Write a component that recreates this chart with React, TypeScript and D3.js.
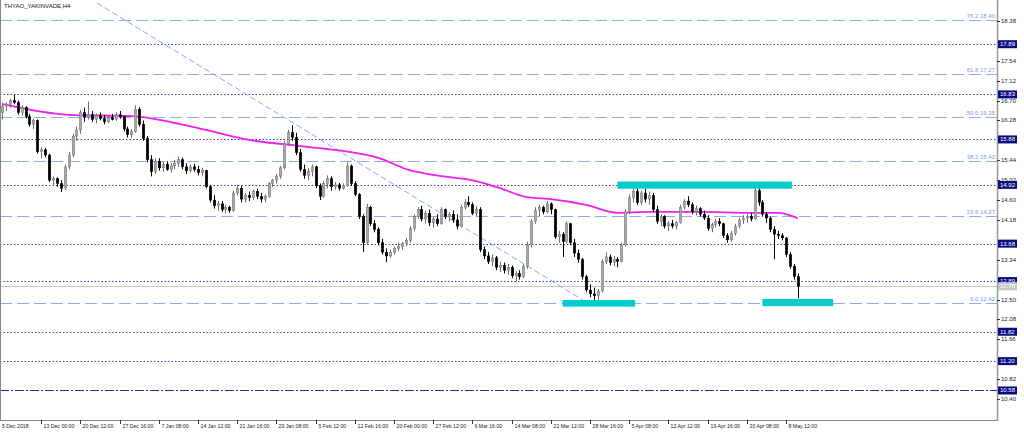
import React from 'react';
import * as d3 from 'd3';

// chart title
const TITLE = 'THYAO_YAKINVADE,H4';

// H4 candles, one per bar: [open, high, low, close]
const CANDLES: [number, number, number, number][] = [
  [16.45, 16.62, 16.30, 16.58], [16.58, 16.66, 16.48, 16.62], [16.62, 16.74, 16.55, 16.70], [16.70, 16.82, 16.62, 16.66],
  [16.66, 16.70, 16.40, 16.45], [16.45, 16.60, 16.38, 16.55], [16.55, 16.58, 16.32, 16.36], [16.36, 16.42, 16.15, 16.20],
  [16.20, 16.32, 16.10, 16.28], [16.28, 16.30, 15.58, 15.62], [15.62, 15.72, 15.48, 15.66], [15.66, 15.70, 15.50, 15.55],
  [15.55, 15.58, 14.98, 15.02], [15.02, 15.10, 14.92, 15.05], [15.05, 15.08, 14.88, 14.95], [14.95, 15.02, 14.77, 14.85],
  [14.85, 15.35, 14.82, 15.30], [15.30, 15.62, 15.25, 15.55], [15.55, 16.00, 15.50, 15.95], [15.95, 16.15, 15.85, 16.08],
  [16.08, 16.50, 16.00, 16.45], [16.45, 16.55, 16.25, 16.35], [16.35, 16.68, 16.30, 16.40], [16.40, 16.48, 16.25, 16.30],
  [16.30, 16.42, 16.22, 16.38], [16.38, 16.45, 16.28, 16.32], [16.32, 16.40, 16.20, 16.25], [16.25, 16.38, 16.22, 16.35],
  [16.35, 16.42, 16.28, 16.30], [16.30, 16.45, 16.27, 16.40], [16.40, 16.48, 16.32, 16.36], [16.36, 16.38, 16.05, 16.10],
  [16.10, 16.15, 15.92, 15.98], [15.98, 16.10, 15.92, 16.05], [16.05, 16.60, 16.02, 16.52], [16.52, 16.56, 16.15, 16.20],
  [16.20, 16.28, 15.85, 15.90], [15.90, 15.95, 15.40, 15.45], [15.45, 15.55, 15.10, 15.20], [15.20, 15.48, 15.15, 15.42],
  [15.42, 15.48, 15.22, 15.28], [15.28, 15.40, 15.20, 15.35], [15.35, 15.42, 15.22, 15.25], [15.25, 15.38, 15.18, 15.32],
  [15.32, 15.45, 15.25, 15.38], [15.38, 15.52, 15.30, 15.45], [15.45, 15.50, 15.25, 15.30], [15.30, 15.38, 15.15, 15.22],
  [15.22, 15.35, 15.18, 15.30], [15.30, 15.36, 15.20, 15.25], [15.25, 15.32, 15.12, 15.18], [15.18, 15.28, 15.10, 15.22],
  [15.22, 15.24, 14.85, 14.88], [14.88, 14.92, 14.55, 14.60], [14.60, 14.70, 14.42, 14.48], [14.48, 14.58, 14.38, 14.52],
  [14.52, 14.58, 14.35, 14.40], [14.40, 14.50, 14.32, 14.45], [14.45, 14.48, 14.33, 14.38], [14.38, 14.80, 14.35, 14.75],
  [14.75, 14.92, 14.70, 14.85], [14.85, 14.90, 14.55, 14.62], [14.62, 14.75, 14.55, 14.70], [14.70, 14.78, 14.58, 14.65],
  [14.65, 14.82, 14.60, 14.78], [14.78, 14.84, 14.62, 14.68], [14.68, 14.75, 14.55, 14.62], [14.62, 14.72, 14.55, 14.68],
  [14.68, 14.98, 14.65, 14.95], [14.95, 15.05, 14.88, 15.02], [15.02, 15.15, 14.95, 15.10], [15.10, 15.32, 15.05, 15.28],
  [15.28, 15.85, 15.25, 15.80], [15.80, 16.08, 15.75, 16.02], [16.02, 16.18, 15.85, 15.92], [15.92, 16.02, 15.55, 15.60],
  [15.60, 15.68, 15.20, 15.25], [15.25, 15.35, 15.05, 15.12], [15.12, 15.28, 15.02, 15.20], [15.20, 15.35, 15.10, 15.30],
  [15.30, 15.32, 14.85, 14.90], [14.90, 14.95, 14.60, 14.68], [14.68, 15.00, 14.65, 14.95], [14.95, 15.12, 14.85, 15.05],
  [15.05, 15.10, 14.80, 14.88], [14.88, 14.98, 14.82, 14.92], [14.92, 14.96, 14.80, 14.85], [14.85, 14.95, 14.82, 14.90],
  [14.90, 15.40, 14.88, 15.32], [15.32, 15.35, 14.90, 14.95], [14.95, 15.00, 14.68, 14.72], [14.72, 14.75, 14.20, 14.25],
  [14.25, 14.30, 13.50, 13.70], [13.70, 14.52, 13.65, 14.45], [14.45, 14.48, 14.05, 14.10], [14.10, 14.18, 13.92, 13.98],
  [13.98, 14.02, 13.65, 13.70], [13.70, 13.78, 13.45, 13.50], [13.50, 13.58, 13.29, 13.42], [13.42, 13.55, 13.38, 13.50],
  [13.50, 13.62, 13.45, 13.58], [13.58, 13.70, 13.52, 13.62], [13.62, 13.72, 13.55, 13.68], [13.68, 13.80, 13.62, 13.75],
  [13.75, 14.05, 13.70, 14.00], [14.00, 14.30, 13.95, 14.25], [14.25, 14.45, 14.20, 14.40], [14.40, 14.48, 14.15, 14.20],
  [14.20, 14.38, 14.10, 14.32], [14.32, 14.40, 14.05, 14.12], [14.12, 14.25, 14.02, 14.20], [14.20, 14.30, 14.05, 14.10],
  [14.10, 14.45, 14.08, 14.40], [14.40, 14.42, 14.20, 14.25], [14.25, 14.35, 14.15, 14.30], [14.30, 14.38, 14.12, 14.18],
  [14.18, 14.30, 13.98, 14.05], [14.05, 14.50, 14.02, 14.45], [14.45, 14.62, 14.40, 14.55], [14.55, 14.68, 14.45, 14.50],
  [14.50, 14.55, 14.28, 14.32], [14.32, 14.48, 14.25, 14.40], [14.40, 14.45, 13.50, 13.55], [13.55, 13.62, 13.35, 13.42],
  [13.42, 13.50, 13.25, 13.30], [13.30, 13.45, 13.20, 13.38], [13.38, 13.42, 13.12, 13.18], [13.18, 13.30, 13.08, 13.22],
  [13.22, 13.28, 13.05, 13.12], [13.12, 13.25, 13.02, 13.18], [13.18, 13.22, 12.95, 13.00], [13.00, 13.10, 12.88, 13.05],
  [13.05, 13.12, 12.92, 12.98], [12.98, 13.25, 12.95, 13.20], [13.20, 13.72, 13.15, 13.65], [13.65, 14.20, 13.60, 14.15],
  [14.15, 14.45, 14.10, 14.38], [14.38, 14.50, 14.25, 14.45], [14.45, 14.48, 14.30, 14.35], [14.35, 14.58, 14.32, 14.52],
  [14.52, 14.55, 14.30, 14.40], [14.40, 14.42, 13.78, 13.82], [13.82, 13.95, 13.70, 13.88], [13.88, 13.92, 13.40, 13.72],
  [13.72, 14.15, 13.68, 14.10], [14.10, 14.12, 13.65, 13.70], [13.70, 13.78, 13.40, 13.48], [13.48, 13.55, 13.28, 13.35],
  [13.35, 13.38, 12.92, 12.98], [12.98, 13.02, 12.65, 12.70], [12.70, 12.82, 12.55, 12.62], [12.62, 12.75, 12.43, 12.58],
  [12.58, 12.72, 12.50, 12.68], [12.68, 13.35, 12.65, 13.30], [13.30, 13.50, 13.25, 13.40], [13.40, 13.45, 13.22, 13.28],
  [13.28, 13.42, 13.20, 13.35], [13.35, 13.40, 13.18, 13.30], [13.30, 13.70, 13.28, 13.65], [13.65, 14.40, 13.62, 14.35],
  [14.35, 14.72, 14.30, 14.65], [14.65, 14.86, 14.55, 14.78], [14.78, 14.85, 14.50, 14.55], [14.55, 14.80, 14.50, 14.75],
  [14.75, 14.84, 14.55, 14.62], [14.62, 14.78, 14.50, 14.70], [14.70, 14.75, 14.35, 14.40], [14.40, 14.48, 14.10, 14.15],
  [14.15, 14.30, 14.05, 14.25], [14.25, 14.28, 14.00, 14.05], [14.05, 14.15, 13.95, 14.10], [14.10, 14.18, 14.00, 14.05],
  [14.05, 14.15, 13.98, 14.12], [14.12, 14.50, 14.10, 14.45], [14.45, 14.62, 14.40, 14.58], [14.58, 14.68, 14.45, 14.50],
  [14.50, 14.55, 14.30, 14.35], [14.35, 14.48, 14.28, 14.42], [14.42, 14.45, 14.25, 14.30], [14.30, 14.38, 14.18, 14.22],
  [14.22, 14.28, 13.95, 14.00], [14.00, 14.12, 13.92, 14.08], [14.08, 14.20, 14.02, 14.15], [14.15, 14.22, 14.05, 14.10],
  [14.10, 14.12, 13.80, 13.85], [13.85, 13.90, 13.70, 13.76], [13.76, 13.95, 13.72, 13.90], [13.90, 14.10, 13.85, 14.05],
  [14.05, 14.22, 14.00, 14.18], [14.18, 14.28, 14.10, 14.22], [14.22, 14.30, 14.12, 14.25], [14.25, 14.32, 14.15, 14.20],
  [14.20, 14.92, 14.18, 14.80], [14.80, 14.85, 14.48, 14.55], [14.55, 14.60, 14.25, 14.30], [14.30, 14.35, 14.12, 14.22],
  [14.22, 14.25, 13.92, 13.98], [13.98, 14.05, 13.35, 13.88], [13.88, 13.95, 13.78, 13.85], [13.85, 13.90, 13.75, 13.80],
  [13.80, 13.82, 13.40, 13.45], [13.45, 13.50, 13.15, 13.20], [13.20, 13.25, 12.92, 12.98], [12.98, 13.05, 12.53, 12.78],
];

// moving average, read at a few bars
const MA_BARS = [0, 17, 33, 50, 63, 76, 89, 96, 104, 110, 121, 127, 134, 140, 149, 157, 165, 178, 191, 198, 203];
const MA_VALUES = [16.63, 16.40, 16.37, 16.12, 15.87, 15.74, 15.61, 15.49, 15.23, 15.13, 15.00, 14.85, 14.66, 14.62, 14.50, 14.33, 14.35, 14.35, 14.33, 14.33, 14.22];

// horizontal support / resistance levels
const LEVELS = [17.89, 16.83, 15.88, 14.92, 13.68, 12.89, 11.82, 11.2];
const LEVEL_DASHDOT = 10.58;
const LAST_PRICE = 12.78;

// fibonacci retracement
const FIB_RATIOS = ['76.2', '61.8', '50.0', '38.2', '23.6', '0.0'];
const FIB_PRICES = [18.4, 17.27, 16.35, 15.42, 14.27, 12.42];

// trendline from the December high to the March low
const TREND_BARS = [24.2, 148.2];
const TREND_PRICES = [18.76, 12.49];

// cyan zones: bar from / to, price top / bottom
const ZONE_FROM = [157, 143, 194];
const ZONE_TO = [201.5, 161.5, 212];
const ZONE_TOP = [14.99, 12.49, 12.51];
const ZONE_BOTTOM = [14.84, 12.35, 12.36];

// price axis ticks (the ones hidden under level tags are left out)
const Y_TICKS = [18.38, 17.54, 17.12, 16.7, 16.28, 15.44, 15.02, 14.6, 14.18, 13.34, 12.5, 12.08, 11.66, 10.82, 10.4];

// time axis labels, every 10 bars
const TIME_LABELS = [
  '5 Dec 2018', '13 Dec 00:00', '20 Dec 12:00', '27 Dec 16:00', '7 Jan 08:00', '14 Jan 12:00', '21 Jan 16:00',
  '29 Jan 08:00', '5 Feb 12:00', '12 Feb 16:00', '20 Feb 00:00', '27 Feb 12:00', '6 Mar 16:00', '14 Mar 08:00',
  '21 Mar 12:00', '28 Mar 16:00', '5 Apr 08:00', '12 Apr 12:00', '19 Apr 16:00', '30 Apr 08:00', '8 May 12:00',
];

const W = 1024;
const H = 433;
const PLOT_R = 997;
const PLOT_B = 420;
const FONT = 'Liberation Sans, Arial, sans-serif';

const App: React.FC = () => {
  const x = d3.scaleLinear().domain([0, 200]).range([2, 786]);
  const y = d3.scaleLinear().domain([10.4, 18.38]).range([399, 21]);
  const py = (v: number) => Math.round(y(v)) + 0.5;

  const maLine = d3.line<number>()
    .x((_, i) => x(MA_BARS[i]))
    .y(d => y(d))
    .curve(d3.curveMonotoneX)(MA_VALUES) || '';

  const fmt = d3.format('.2f');
  const bodyW = 2.6;

  return (
    <div style={{ position: 'absolute', left: 0, top: 0 }}>
      <svg width={W} height={H} style={{ display: 'block', background: '#fff' }} fontFamily={FONT}>
        <defs>
          <clipPath id="plot">
            <rect x={0} y={0} width={PLOT_R} height={PLOT_B} />
          </clipPath>
        </defs>

        <g clipPath="url(#plot)">
          {/* level lines */}
          {LEVELS.map(v => (
            <line key={'l' + v} x1={0} x2={PLOT_R} y1={py(v)} y2={py(v)}
              stroke="#3434b4" strokeWidth={1} strokeDasharray="1.5,2" />
          ))}
          <line x1={0} x2={PLOT_R} y1={py(LEVEL_DASHDOT)} y2={py(LEVEL_DASHDOT)}
            stroke="#2a2aa0" strokeWidth={1} strokeDasharray="9,2,2,2" />

          {/* fibonacci */}
          {FIB_PRICES.map((v, i) => (
            <g key={'f' + i}>
              <line x1={0} x2={PLOT_R} y1={py(v)} y2={py(v)}
                stroke="#92aaf2" strokeWidth={1} strokeDasharray="12,5" />
              <text x={995} y={y(v) - 2} textAnchor="end" fontSize={6} fill="#7d97e8">
                {FIB_RATIOS[i] + ' ' + fmt(v)}
              </text>
            </g>
          ))}

          {/* last price line */}
          <line x1={0} x2={PLOT_R} y1={py(LAST_PRICE)} y2={py(LAST_PRICE)} stroke="#c4c4c4" strokeWidth={1} />

          {/* trendline */}
          <line x1={x(TREND_BARS[0])} y1={y(TREND_PRICES[0])} x2={x(TREND_BARS[1])} y2={y(TREND_PRICES[1])}
            stroke="#8ca6ea" strokeWidth={1} strokeDasharray="6,3" />

          {/* moving average */}
          <path d={maLine} fill="none" stroke="#f01ef0" strokeWidth={1.8} />

          {/* candles */}
          {CANDLES.map(([o, h, l, c], i) => {
            const up = c >= o;
            const cx = Math.round(x(i)) + 0.5;
            const top = y(Math.max(o, c));
            const bot = y(Math.min(o, c));
            return (
              <g key={'c' + i}>
                <line x1={cx} x2={cx} y1={y(h)} y2={y(l)} stroke={up ? '#6e6e6e' : '#000'} strokeWidth={1} />
                <rect x={cx - bodyW / 2} y={top} width={bodyW} height={Math.max(1, bot - top)}
                  fill={up ? '#a9a9a9' : '#000'} stroke={up ? '#6e6e6e' : '#000'} strokeWidth={0.4} />
              </g>
            );
          })}

          {/* zones */}
          {ZONE_FROM.map((f, i) => (
            <rect key={'z' + i} x={x(f)} y={y(ZONE_TOP[i])} width={x(ZONE_TO[i]) - x(f)}
              height={y(ZONE_BOTTOM[i]) - y(ZONE_TOP[i])} fill="#00cccc" />
          ))}
        </g>

        {/* title */}
        <text x={4} y={8} fontSize={6} fill="#111">{TITLE}</text>

        {/* frame */}
        <line x1={0.5} x2={0.5} y1={0} y2={PLOT_B} stroke="#888" />
        <line x1={0} x2={PLOT_R} y1={PLOT_B + 0.5} y2={PLOT_B + 0.5} stroke="#888" />
        <line x1={PLOT_R + 0.5} x2={PLOT_R + 0.5} y1={0} y2={PLOT_B + 1} stroke="#999" strokeWidth={1.5} />

        {/* price axis */}
        {Y_TICKS.map(v => (
          <g key={'t' + v}>
            <line x1={PLOT_R} x2={PLOT_R + 3} y1={py(v)} y2={py(v)} stroke="#333" />
            <text x={PLOT_R + 4} y={y(v) + 2} fontSize={6} fill="#222">{fmt(v)}</text>
          </g>
        ))}

        {/* level tags */}
        {[...LEVELS, LEVEL_DASHDOT].map(v => (
          <g key={'b' + v}>
            <rect x={PLOT_R + 1} y={y(v) - 4} width={19} height={8} fill="#0b0b80" />
            <text x={PLOT_R + 3} y={y(v) + 2} fontSize={6} fill="#fff">{fmt(v)}</text>
          </g>
        ))}
        <g>
          <rect x={PLOT_R + 1} y={y(LAST_PRICE) - 4} width={19} height={8} fill="#c8c8c8" />
          <text x={PLOT_R + 3} y={y(LAST_PRICE) + 2} fontSize={6} fill="#fff">{fmt(LAST_PRICE)}</text>
        </g>

        {/* time axis */}
        {TIME_LABELS.map((t, i) => {
          const tx = Math.round(x(i * 10)) + 0.5;
          return (
            <g key={'x' + i}>
              {i > 0 && <line x1={tx} x2={tx} y1={PLOT_B} y2={PLOT_B + 4} stroke="#333" />}
              <text x={i === 0 ? 2 : tx + 2} y={PLOT_B + 8} fontSize={5.2} fill="#222">{t}</text>
            </g>
          );
        })}
      </svg>
    </div>
  );
};

export default App;
